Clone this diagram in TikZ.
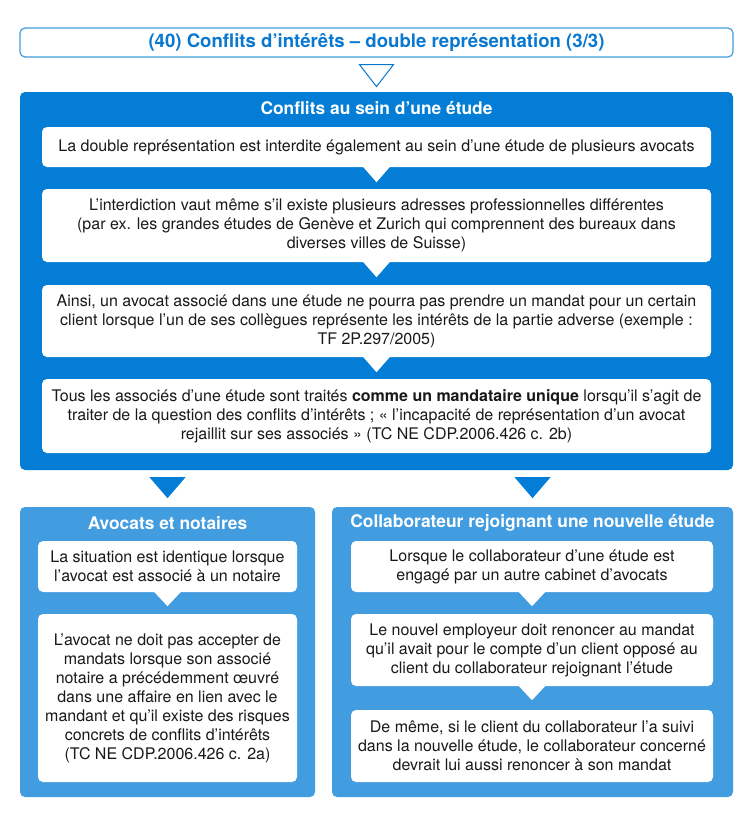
\documentclass[tikz,border=0pt]{standalone}
\usepackage{fontspec}
\setmainfont{TeX Gyre Heros}
\usetikzlibrary{positioning}

\definecolor{darkblue}{RGB}{3,125,213}
\definecolor{lightblue}{RGB}{66,156,224}
\definecolor{titleblue}{RGB}{8,120,208}
\definecolor{bodytext}{RGB}{25,25,25}

\tikzset{
  panel/.style={rounded corners=5pt, inner sep=0pt},
  textbox/.style={panel, fill=white, align=center, text=bodytext,
    font=\fontsize{16}{19}\selectfont},
  heading/.style={text=white, font=\bfseries\fontsize{17.4}{19}\selectfont, inner sep=0pt},
}

\begin{document}
\begin{tikzpicture}[x=1pt,y=-1pt]

    \useasboundingbox (0,0) rectangle (752,819);

    % Title
    \node[panel, draw=lightblue, line width=1.2pt, fill=white, minimum width=713pt, minimum height=29pt,
      text=titleblue, font=\bfseries\fontsize{18.6}{19}\selectfont] (title) at (376.5,42.5)
      {(40) Conflits d’intérêts – double représentation (3/3)};

    % Main panel
    \node[panel, fill=darkblue, minimum width=713pt, minimum height=378pt] (main) at (376.5,281) {};
    \node[heading] (mainhead) at (376.5,108) {Conflits au sein d’une étude};

    \node[textbox, minimum width=669pt, minimum height=40pt] (b1) at (376.5,147)
      {La double représentation est interdite également au sein d’une étude de plusieurs avocats};
    \node[textbox, minimum width=669pt, minimum height=73pt] (b2) at (376.5,225.5)
      {L’interdiction vaut même s’il existe plusieurs adresses professionnelles différentes\\
       (par ex. les grandes études de Genève et Zurich qui comprennent des bureaux dans\\
       diverses villes de Suisse)};
    \node[textbox, minimum width=669pt, minimum height=72pt] (b3) at (376.5,321)
      {Ainsi, un avocat associé dans une étude ne pourra pas prendre un mandat pour un certain\\
       client lorsque l’un de ses collègues représente les intérêts de la partie adverse (exemple :\\
       TF 2P.297/2005)};
    \node[textbox, minimum width=669pt, minimum height=74pt] (b4) at (376.5,416)
      {Tous les associés d’une étude sont traités \textbf{comme un mandataire unique} lorsqu’il s’agit de\\
       traiter de la question des conflits d’intérêts ; « l’incapacité de représentation d’un avocat\\
       rejaillit sur ses associés » (TC NE CDP.2006.426 c. 2b)};

    % Notches
    \foreach \n in {b1,b2,b3}
        \fill[white, shift={(\n.south)}] (-14,-1) -- (14,-1) -- (0,15) -- cycle;

    % Lower panels
    \node[panel, fill=lightblue, minimum width=295pt, minimum height=290pt] (left) at (167.5,652) {};
    \node[heading] (lefthead) at (167.5,523) {Avocats et notaires};
    \node[panel, fill=lightblue, minimum width=401pt, minimum height=290pt] (right) at (532.5,652) {};
    \node[heading] (righthead) at (532.5,523) {Collaborateur rejoignant une nouvelle étude};

    \node[textbox, minimum width=259pt, minimum height=51pt] (l1) at (167.5,566.5)
      {La situation est identique lorsque\\ l’avocat est associé à un notaire};
    \node[textbox, minimum width=259pt, minimum height=168pt] (l2) at (167.5,698)
      {L’avocat ne doit pas accepter de\\ mandats lorsque son associé\\
       notaire a précédemment œuvré\\ dans une affaire en lien avec le\\
       mandant et qu’il existe des risques\\ concrets de conflits d’intérêts\\
       (TC NE CDP.2006.426 c. 2a)};

    \node[textbox, minimum width=362pt, minimum height=51pt] (r1) at (532,566.5)
      {Lorsque le collaborateur d’une étude est\\ engagé par un autre cabinet d’avocats};
    \node[textbox, minimum width=362pt, minimum height=72pt] (r2) at (532,650)
      {Le nouvel employeur doit renoncer au mandat\\ qu’il avait pour le compte d’un client opposé au\\
       client du collaborateur rejoignant l’étude};
    \node[textbox, minimum width=362pt, minimum height=72pt] (r3) at (532,746)
      {De même, si le client du collaborateur l’a suivi\\ dans la nouvelle étude, le collaborateur concerné\\
       devrait lui aussi renoncer à son mandat};

    \foreach \n in {l1,r1,r2}
        \fill[white, shift={(\n.south)}] (-14,-1) -- (14,-1) -- (0,14) -- cycle;

    % Arrows between panels
    \draw[titleblue, line width=1pt, fill=white, shift={(title.south)}]
        (-17,7) -- (17,7) -- (0,29) -- cycle;
    \fill[darkblue, shift={(main.south -| left.north)}] (-18,7) -- (18,7) -- (0,28) -- cycle;
    \fill[darkblue, shift={(main.south -| right.north)}] (-18,7) -- (18,7) -- (0,28) -- cycle;

\end{tikzpicture}
\end{document}
